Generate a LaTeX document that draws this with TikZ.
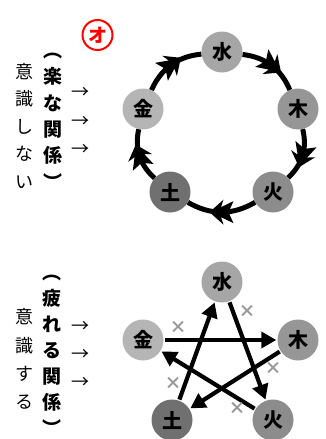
\documentclass[tikz,border=0pt]{standalone}
\usepackage{fontspec}
\setmainfont{Noto Sans CJK JP}
\usetikzlibrary{arrows.meta,decorations.markings}

\begin{document}
\begin{tikzpicture}
[
  x=1pt, y=-1pt,
  elem/.style ={circle, minimum size=41pt, inner sep=0pt, font=\fontsize{20}{20}\selectfont\bfseries},
  ring/.style ={line width=5pt, postaction={decorate},
    decoration={markings,
      mark=at position 0.5 with {\fill (12pt,0pt) -- (-2pt,12.5pt) -- (0.5pt,5pt) -- (-12pt,11pt) -- (-7pt,0pt)
        -- (-12pt,-11pt) -- (0.5pt,-5pt) -- (-2pt,-12.5pt) -- cycle;}}},
  star/.style ={line width=4.2pt, -{Triangle[length=15pt,width=16pt]}, shorten >=1pt, shorten <=1pt},
  batsu/.style ={text=black!40, inner sep=0pt, font=\fontsize{17}{17}\selectfont\bfseries},
  vcol/.style ={align=center, inner sep=0pt},
]
\useasboundingbox (0,0) rectangle (326,439);

% mark
\node[draw=red, line width=2pt, circle, minimum size=30pt, inner sep=0pt, text=red,
  font=\fontsize{19}{19}\selectfont\bfseries] (mark) at (97.5,35) {オ};

% upper: circle of elements
\node[vcol, font=\fontsize{18}{27.5}\selectfont] (ishikiA) at (25,126) {意\\識\\し\\な\\い};
\node[vcol, font=\fontsize{19}{26.4}\selectfont\bfseries] (rakuA) at (53,121) {︵\\楽\\な\\関\\係\\︶};
\node[vcol, font=\fontsize{18}{28.5}\selectfont] (arrA) at (80,121.5) {→\\→\\→};

\node[elem, fill=black!35] (suiA)  at (222,52)  {水};
\node[elem, fill=black!41] (mokuA) at (298,109) {木};
\node[elem, fill=black!45] (kaA)   at (273,192) {火};
\node[elem, fill=black!56] (doA)   at (170,192) {土};
\node[elem, fill=black!29] (kinA)  at (143,109) {金};

\draw[ring] (suiA)  to[bend left=30] (mokuA);
\draw[ring] (mokuA) to[bend left=30] (kaA);
\draw[ring] (kaA)   to[bend left=30] (doA);
\draw[ring] (doA)   to[bend left=30] (kinA);
\draw[ring] (kinA)  to[bend left=30] (suiA);

% lower: star of elements
\node[vcol, font=\fontsize{18}{28.3}\selectfont] (ishikiB) at (25,359) {意\\識\\す\\る};
\node[vcol, font=\fontsize{19}{26}\selectfont\bfseries] (tsukareB) at (52,355) {︵\\疲\\れ\\る\\関\\係\\︶};
\node[vcol, font=\fontsize{18}{28.3}\selectfont] (arrB) at (80,355) {→\\→\\→};

\node[elem, fill=black!35] (suiB)  at (222,282) {水};
\node[elem, fill=black!41] (mokuB) at (298,340) {木};
\node[elem, fill=black!45] (kaB)   at (273,420) {火};
\node[elem, fill=black!56] (doB)   at (172,420) {土};
\node[elem, fill=black!29] (kinB)  at (143,340) {金};

\draw[star] (kinB)  -- (mokuB);
\draw[star] (mokuB) -- (doB);
\draw[star] (doB)   -- (suiB);
\draw[star] (suiB)  -- (kaB);
\draw[star] (kaB)   -- (kinB);

\node[batsu] (x1) at (178,327) {×};
\node[batsu] (x2) at (247,311) {×};
\node[batsu] (x3) at (273,368) {×};
\node[batsu] (x4) at (237,408) {×};
\node[batsu] (x5) at (173,383) {×};

\end{tikzpicture}
\end{document}
